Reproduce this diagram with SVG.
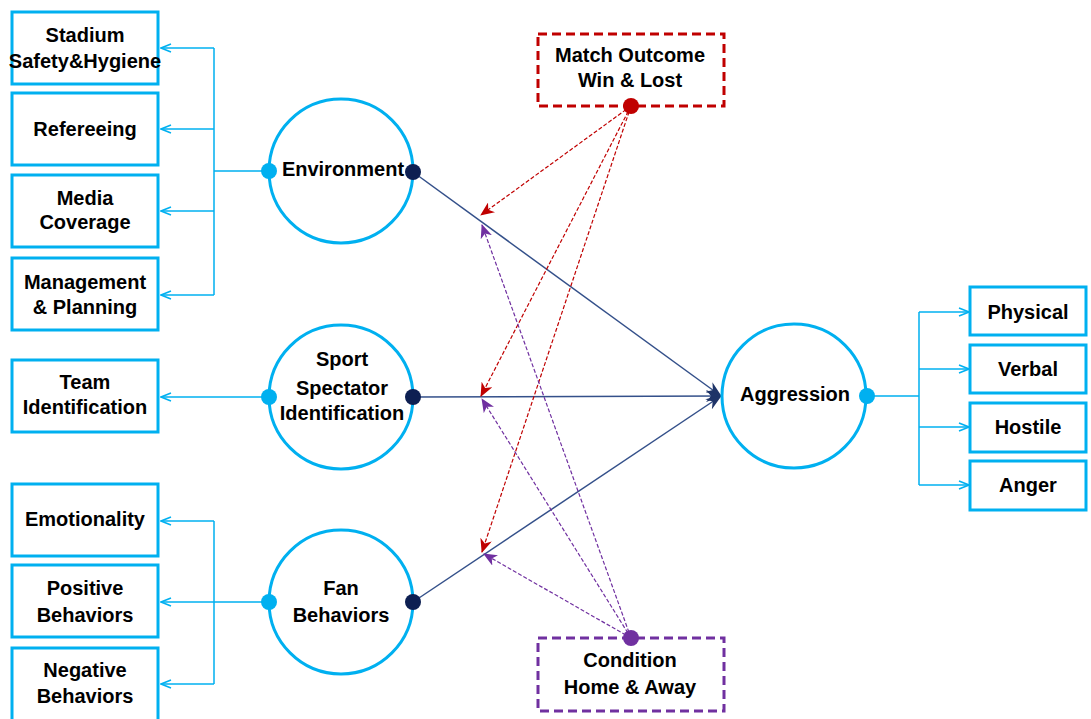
<svg xmlns="http://www.w3.org/2000/svg" width="1091" height="719" viewBox="0 0 1091 719">
<style>
.box{fill:#fff;stroke:#00B0F0;stroke-width:3}
.circ{fill:#fff;stroke:#00B0F0;stroke-width:3}
.dbr{fill:#fff;stroke:#C00000;stroke-width:3;stroke-dasharray:9,5}
.dbp{fill:#fff;stroke:#7030A0;stroke-width:3;stroke-dasharray:9,5}
.t{font-family:"Liberation Sans",Arial,sans-serif;font-weight:bold;font-size:20px;fill:#000;text-anchor:middle}
.bl{fill:none;stroke:#00B0F0;stroke-width:1.5}
.nv{fill:none;stroke:#34508A;stroke-width:1.5}
.rd{fill:none;stroke:#C00000;stroke-width:1.2;stroke-dasharray:4,2}
.pp{fill:none;stroke:#7030A0;stroke-width:1.2;stroke-dasharray:4,2}
</style>
<defs>
<marker id="ab" viewBox="0 0 12 10" refX="11" refY="5" markerWidth="12" markerHeight="10" markerUnits="userSpaceOnUse" orient="auto">
<path d="M1,1 L11,5 L1,9" fill="none" stroke="#00B0F0" stroke-width="1.5"/>
</marker>
<marker id="an" viewBox="0 0 16 12" refX="15" refY="6" markerWidth="16" markerHeight="12" markerUnits="userSpaceOnUse" orient="auto">
<path d="M0,0 L16,6 L0,12 L5,6 z" fill="#1F3468"/>
</marker>
<marker id="ar" viewBox="0 0 14 12" refX="13" refY="6" markerWidth="14" markerHeight="12" markerUnits="userSpaceOnUse" orient="auto">
<path d="M0,0 L14,6 L0,12 L4,6 z" fill="#C00000"/>
</marker>
<marker id="ap" viewBox="0 0 14 12" refX="13" refY="6" markerWidth="14" markerHeight="12" markerUnits="userSpaceOnUse" orient="auto">
<path d="M0,0 L14,6 L0,12 L4,6 z" fill="#7030A0"/>
</marker>
</defs>

<g id="connectors">
<!-- Environment bracket -->
<path class="bl" d="M269,171 H214 M214,48 V295"/>
<path class="bl" d="M214,48 H161" marker-end="url(#ab)"/>
<path class="bl" d="M214,129 H161" marker-end="url(#ab)"/>
<path class="bl" d="M214,211 H161" marker-end="url(#ab)"/>
<path class="bl" d="M214,295 H161" marker-end="url(#ab)"/>
<!-- Sport spectator -->
<path class="bl" d="M269,397 H161" marker-end="url(#ab)"/>
<!-- Fan behaviors bracket -->
<path class="bl" d="M269,602 H214 M214,521 V684"/>
<path class="bl" d="M214,521 H161" marker-end="url(#ab)"/>
<path class="bl" d="M214,602 H161" marker-end="url(#ab)"/>
<path class="bl" d="M214,684 H161" marker-end="url(#ab)"/>
<!-- Aggression bracket -->
<path class="bl" d="M867,396 H919 M919,312 V485"/>
<path class="bl" d="M919,312 H969" marker-end="url(#ab)"/>
<path class="bl" d="M919,369 H969" marker-end="url(#ab)"/>
<path class="bl" d="M919,427 H969" marker-end="url(#ab)"/>
<path class="bl" d="M919,485 H969" marker-end="url(#ab)"/>
<!-- Navy paths to Aggression -->
<path class="nv" d="M413,172 L721,396" marker-end="url(#an)"/>
<path class="nv" d="M413,397 L721,396" marker-end="url(#an)"/>
<path class="nv" d="M413,602 L721,396" marker-end="url(#an)"/>
<!-- Match outcome moderators -->
<path class="rd" d="M631,106 L481,215" marker-end="url(#ar)"/>
<path class="rd" d="M631,106 L481,396" marker-end="url(#ar)"/>
<path class="rd" d="M631,106 L482,552" marker-end="url(#ar)"/>
<!-- Condition moderators -->
<path class="pp" d="M631,638 L482,225" marker-end="url(#ap)"/>
<path class="pp" d="M631,638 L482,399" marker-end="url(#ap)"/>
<path class="pp" d="M631,638 L484,554" marker-end="url(#ap)"/>
</g>

<g id="stadium"><rect class="box" x="12" y="12" width="146" height="72"/><text class="t" x="85" y="42">Stadium</text><text class="t" x="85" y="68">Safety&amp;Hygiene</text></g>
<g id="refereeing"><rect class="box" x="12" y="93" width="146" height="72"/><text class="t" x="85" y="136">Refereeing</text></g>
<g id="media"><rect class="box" x="12" y="175" width="146" height="72"/><text class="t" x="85" y="205">Media</text><text class="t" x="85" y="229">Coverage</text></g>
<g id="management"><rect class="box" x="12" y="258" width="146" height="72"/><text class="t" x="85" y="289">Management</text><text class="t" x="85" y="314">&amp; Planning</text></g>
<g id="team"><rect class="box" x="12" y="360" width="146" height="72"/><text class="t" x="85" y="389">Team</text><text class="t" x="85" y="414">Identification</text></g>
<g id="emotionality"><rect class="box" x="12" y="484" width="146" height="72"/><text class="t" x="85" y="526">Emotionality</text></g>
<g id="positive"><rect class="box" x="12" y="565" width="146" height="72"/><text class="t" x="85" y="595">Positive</text><text class="t" x="85" y="622">Behaviors</text></g>
<g id="negative"><rect class="box" x="12" y="648" width="146" height="76"/><text class="t" x="85" y="677">Negative</text><text class="t" x="85" y="703">Behaviors</text></g>

<g id="environment"><circle class="circ" cx="341" cy="171" r="72"/><text class="t" x="343" y="176">Environment</text><circle cx="269" cy="171" r="8" fill="#00B0F0"/><circle cx="413" cy="172" r="8" fill="#0D1F52"/></g>
<g id="sport"><circle class="circ" cx="341" cy="397" r="72"/><text class="t" x="342" y="366">Sport</text><text class="t" x="342" y="395">Spectator</text><text class="t" x="342" y="420">Identification</text><circle cx="269" cy="397" r="8" fill="#00B0F0"/><circle cx="413" cy="397" r="8" fill="#0D1F52"/></g>
<g id="fan"><circle class="circ" cx="341" cy="602" r="72"/><text class="t" x="341" y="595">Fan</text><text class="t" x="341" y="622">Behaviors</text><circle cx="269" cy="602" r="8" fill="#00B0F0"/><circle cx="413" cy="602" r="8" fill="#0D1F52"/></g>
<g id="aggression"><circle class="circ" cx="794" cy="396" r="72"/><text class="t" x="795" y="401">Aggression</text><circle cx="867" cy="396" r="8" fill="#00B0F0"/></g>

<g id="match"><rect class="dbr" x="538" y="34" width="186" height="72"/><text class="t" x="630" y="62">Match Outcome</text><text class="t" x="630" y="87">Win &amp; Lost</text><circle cx="631" cy="106" r="8" fill="#C00000"/></g>
<g id="condition"><rect class="dbp" x="538" y="638" width="186" height="73"/><text class="t" x="630" y="667">Condition</text><text class="t" x="630" y="694">Home &amp; Away</text><circle cx="631" cy="638" r="8" fill="#7030A0"/></g>

<g id="physical"><rect class="box" x="970" y="287" width="116" height="48"/><text class="t" x="1028" y="319">Physical</text></g>
<g id="verbal"><rect class="box" x="970" y="345" width="116" height="48"/><text class="t" x="1028" y="376">Verbal</text></g>
<g id="hostile"><rect class="box" x="970" y="403" width="116" height="49"/><text class="t" x="1028" y="434">Hostile</text></g>
<g id="anger"><rect class="box" x="970" y="461" width="116" height="49"/><text class="t" x="1028" y="492">Anger</text></g>
</svg>
